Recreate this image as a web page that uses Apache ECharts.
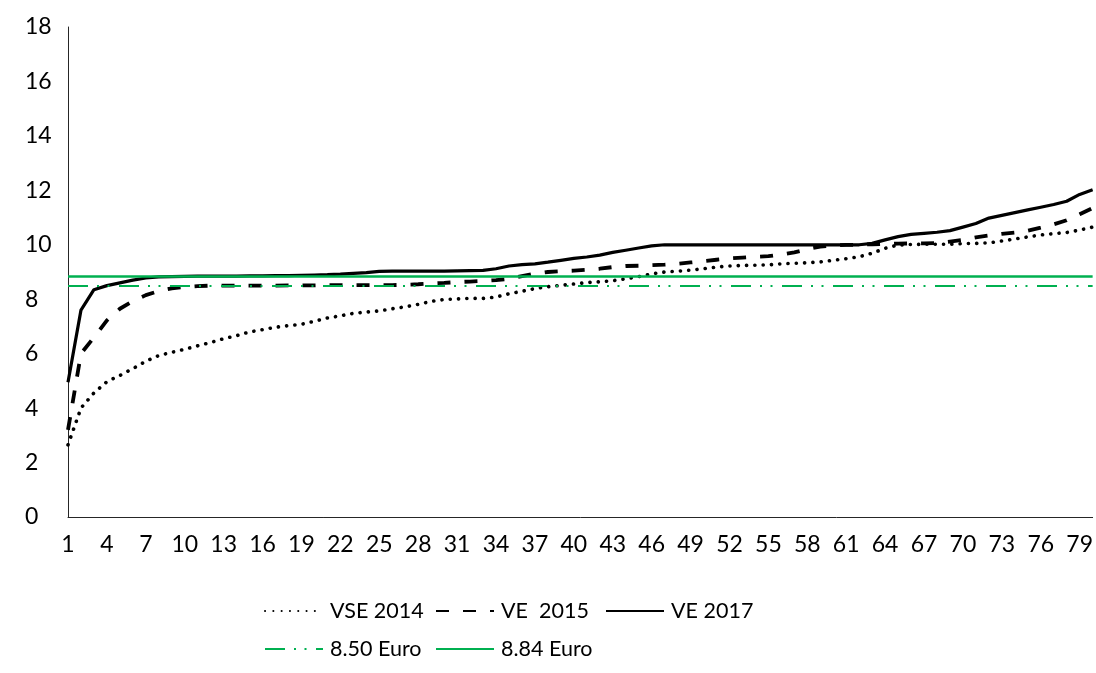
<!DOCTYPE html>
<html>
<head>
<meta charset="utf-8">
<script src="https://cdn.jsdelivr.net/npm/echarts@6/dist/echarts.min.js"></script>
<style>
html,body{margin:0;padding:0;background:#fff;}
#chart{width:1096px;height:673px;}
</style>
</head>
<body>
<div id="chart"></div>
<script>
const categories = [1,2,3,4,5,6,7,8,9,10,11,12,13,14,15,16,17,18,19,20,21,22,23,24,25,26,27,28,29,30,31,32,33,34,35,36,37,38,39,40,41,42,43,44,45,46,47,48,49,50,51,52,53,54,55,56,57,58,59,60,61,62,63,64,65,66,67,68,69,70,71,72,73,74,75,76,77,78,79,80];

const vse2014 = [2.65, 4.0, 4.56, 4.97, 5.2, 5.45, 5.72, 5.93, 6.05, 6.16,
 6.29, 6.41, 6.55, 6.66, 6.8, 6.88, 6.97, 7.03, 7.08, 7.19,
 7.31, 7.39, 7.48, 7.53, 7.57, 7.65, 7.72, 7.81, 7.92, 7.99,
 8.01, 8.03, 8.03, 8.08, 8.2, 8.29, 8.39, 8.46, 8.51, 8.56,
 8.61, 8.64, 8.68, 8.75, 8.83, 8.93, 9.0, 9.03, 9.07, 9.12,
 9.18, 9.22, 9.24, 9.25, 9.26, 9.3, 9.32, 9.34, 9.37, 9.43,
 9.49, 9.56, 9.69, 9.87, 9.99, 10.01, 10.02, 10.02, 10.02, 10.04,
 10.05, 10.07, 10.14, 10.21, 10.29, 10.36, 10.41, 10.45, 10.54, 10.65];

const ve2015 = [3.2, 6.0, 6.6, 7.22, 7.65, 7.93, 8.15, 8.3, 8.4, 8.45,
 8.48, 8.5, 8.5, 8.5, 8.5, 8.5, 8.5, 8.51, 8.51, 8.51,
 8.52, 8.52, 8.52, 8.52, 8.52, 8.52, 8.53, 8.55, 8.58, 8.6,
 8.63, 8.65, 8.67, 8.7, 8.75, 8.85, 8.94, 9.0, 9.03, 9.05,
 9.08, 9.12, 9.18, 9.22, 9.23, 9.25, 9.27, 9.3, 9.35, 9.4,
 9.45, 9.5, 9.53, 9.56, 9.58, 9.64, 9.72, 9.84, 9.93, 9.98,
 10.0, 10.0, 10.02, 10.03, 10.04, 10.05, 10.05, 10.06, 10.12, 10.18,
 10.27, 10.34, 10.4, 10.45, 10.52, 10.63, 10.75, 10.9, 11.12, 11.35];

const ve2017 = [4.95, 7.6, 8.35, 8.5, 8.6, 8.7, 8.78, 8.82, 8.83, 8.84,
 8.85, 8.85, 8.85, 8.85, 8.86, 8.86, 8.87, 8.87, 8.88, 8.89,
 8.9, 8.92, 8.95, 8.98, 9.02, 9.03, 9.03, 9.03, 9.03, 9.03,
 9.04, 9.05, 9.06, 9.12, 9.22, 9.27, 9.3, 9.36, 9.43, 9.5,
 9.55, 9.62, 9.72, 9.8, 9.88, 9.96, 10.0, 10.0, 10.0, 10.0,
 10.0, 10.0, 10.0, 10.0, 10.0, 10.0, 10.0, 10.0, 10.0, 10.0,
 10.0, 10.0, 10.05, 10.18, 10.3, 10.38, 10.42, 10.46, 10.52, 10.65,
 10.78, 10.98, 11.08, 11.18, 11.28, 11.38, 11.48, 11.6, 11.85, 12.02];

const level850 = 8.50;
const level884 = 8.84;

const seriesNames = ['VSE 2014', 'VE  2015', 'VE 2017', '8.50 Euro', '8.84 Euro'];

const FONT = 'Lato';
const FS = 23;
const LFS = 21.5;
const GREEN = '#00B050';
const dotStyle = {color:'#000', width:3.6, type:[0.1, 8.2], cap:'round'};
const dashStyle = {color:'#000', width:3.8, type:[13, 14], cap:'butt'};
const solidStyle = {color:'#000', width:3.2, type:'solid'};
const dashDotStyle = {color:GREEN, width:2, type:[20, 9, 2, 8.5, 2, 9.5]};
const greenSolid = {color:GREEN, width:2.5, type:'solid'};

function legendAt(name, left, top){
  return {
    data:[name], left:left, top:top, itemWidth:58, itemHeight:14, itemGap:0,
    itemStyle:{opacity:0, borderWidth:0},
    textStyle:{fontFamily:FONT, fontSize:LFS, color:'#000', padding:[0,0,0,2]}
  };
}

const chart = echarts.init(document.getElementById('chart'), null, {renderer:'canvas'});
chart.setOption({
  animation:false,
  backgroundColor:'#fff',
  grid:{left:68, right:3, top:27, bottom:156, containLabel:false},
  legend:[
    legendAt(seriesNames[0], 259, 595),
    legendAt(seriesNames[1], 430, 595),
    legendAt(seriesNames[2], 600, 595),
    legendAt(seriesNames[3], 259, 633),
    legendAt(seriesNames[4], 430, 633)
  ],
  xAxis:{
    type:'category', data:categories, boundaryGap:false,
    axisLine:{show:true, lineStyle:{color:'#262626', width:1}},
    axisTick:{show:false},
    axisLabel:{interval:2, fontFamily:FONT, fontSize:FS, color:'#000', margin:16},
    splitLine:{show:false}
  },
  yAxis:{
    type:'value', min:0, max:18, interval:2,
    axisLine:{show:true, lineStyle:{color:'#262626', width:1}},
    axisTick:{show:false},
    axisLabel:{fontFamily:FONT, fontSize:FS, color:'#000', align:'left', margin:43},
    splitLine:{show:false}
  },
  series:[
    {name:seriesNames[0], type:'line', data:vse2014, symbol:'none', showSymbol:false, lineStyle:dotStyle, itemStyle:{color:'#000'}, z:3},
    {name:seriesNames[1], type:'line', data:ve2015, symbol:'none', showSymbol:false, lineStyle:dashStyle, itemStyle:{color:'#000'}, z:3},
    {name:seriesNames[2], type:'line', data:ve2017, symbol:'none', showSymbol:false, lineStyle:solidStyle, itemStyle:{color:'#000'}, z:3},
    {name:seriesNames[3], type:'line', data:[], symbol:'none', showSymbol:false, lineStyle:dashDotStyle, itemStyle:{color:GREEN}, z:4,
      markLine:{silent:true, symbol:['none','none'], label:{show:false}, lineStyle:dashDotStyle, data:[{yAxis:level850}]}},
    {name:seriesNames[4], type:'line', data:[], symbol:'none', showSymbol:false, lineStyle:greenSolid, itemStyle:{color:GREEN}, z:4,
      markLine:{silent:true, symbol:['none','none'], label:{show:false}, lineStyle:greenSolid, data:[{yAxis:level884}]}}
  ]
});
</script>
</body>
</html>
